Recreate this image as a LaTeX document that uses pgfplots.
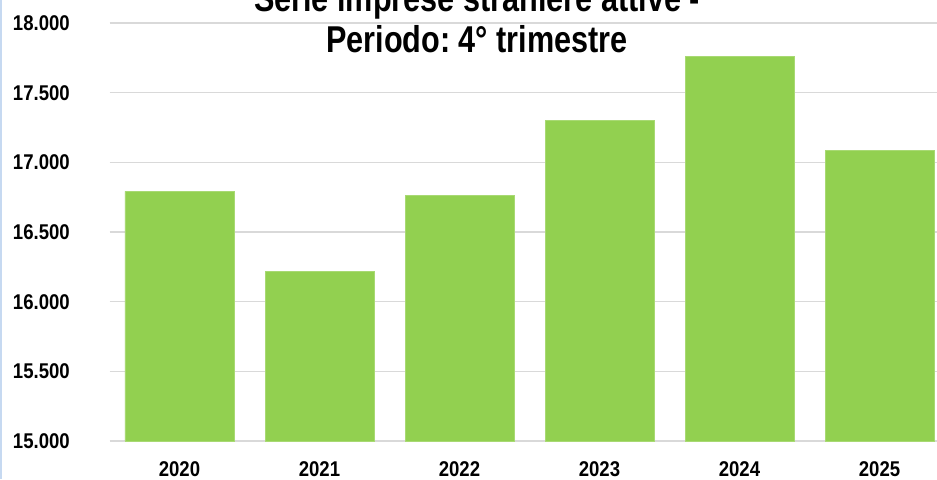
\documentclass[border=0pt]{standalone}
\usepackage{fontspec}
\setmainfont{Liberation Sans}[FakeStretch=0.82]
\newfontfamily\tickfont{Liberation Sans}[FakeStretch=0.87]
\usepackage{pgfplots}
\pgfplotsset{compat=1.18}
\definecolor{bargreen}{HTML}{92D050}
\definecolor{gridgray}{HTML}{D9D9D9}
\definecolor{edgeblue}{HTML}{C6D9F1}
\frenchspacing
\begin{document}
\begin{tikzpicture}
\begin{axis}[
  at={(82.125pt,28.5pt)}, anchor=south west,
  scale only axis,
  width=630pt, height=313.5pt,
  xmin=-0.5, xmax=5.5,
  ymin=15000, ymax=18000,
  ytick={15000,15500,16000,16500,17000,17500,18000},
  scaled y ticks=false,
  yticklabel={\pgfmathprintnumber[fixed, precision=0, 1000 sep={.}, assume math mode=true]{\tick}},
  xtick={0,1,2,3,4,5},
  xticklabels={2020,2021,2022,2023,2024,2025},
  ymajorgrids,
  grid style={gridgray, line width=1.1pt},
  axis line style={draw=none},
  major tick length=0pt,
  yticklabel style={anchor=east, inner sep=0pt, xshift=-29.6pt, font=\fontsize{16}{18}\tickfont\bfseries},
  xticklabel style={anchor=north, inner sep=0pt, yshift=-15pt, font=\fontsize{16}{18}\tickfont\bfseries},
  ybar, bar width=81.75pt,
]
\addplot[fill=bargreen, draw=bargreen!80!white, line width=0.6pt] coordinates {
  (0,16791) (1,16215) (2,16762) (3,17303) (4,17762) (5,17087)
};
\end{axis}
\fill[edgeblue] (0,0) rectangle (1.5pt,359.25pt);
\node[anchor=base, inner sep=0pt, font=\fontsize{28}{32}\selectfont\bfseries] at (357.75pt,350.25pt) {Serie imprese straniere attive -};
\node[anchor=base, inner sep=0pt, font=\fontsize{28}{32}\selectfont\bfseries] at (357.75pt,319.5pt) {Periodo: 4° trimestre};
\pgfresetboundingbox
\useasboundingbox (0,0) rectangle (702.75pt,359.25pt);
\end{tikzpicture}
\end{document}
